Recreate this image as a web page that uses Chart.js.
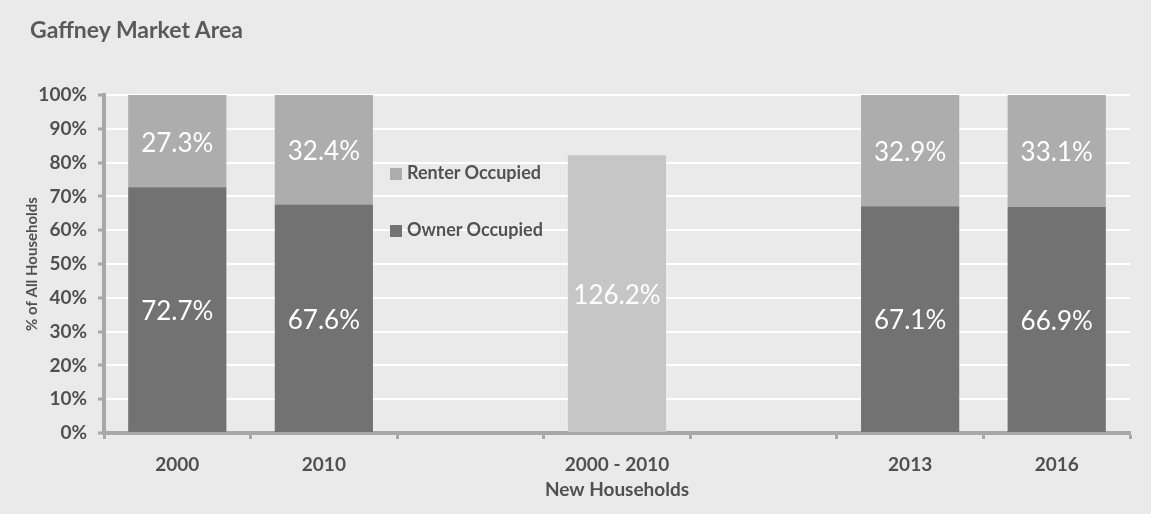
<!DOCTYPE html>
<html>
<head>
<meta charset="utf-8">
<script src="https://cdn.jsdelivr.net/npm/chart.js@4.4.1/dist/chart.umd.min.js"></script>
<style>
  body { margin: 0; background: #eaeaea; }
  #wrap { position: relative; width: 1151px; height: 514px; background: #eaeaea; }
  #title { position: absolute; left: 30px; top: 16px; font: bold 23px Lato, sans-serif; color: #5a5a5a; line-height: 26px; }
  #legend { position: absolute; left: 390px; top: 160px; font: bold 18px Lato, sans-serif; color: #525252; }
  #legend div { height: 24px; line-height: 24px; margin-bottom: 33px; white-space: nowrap; }
  #legend span { display: inline-block; width: 12px; height: 12px; margin-right: 5px; vertical-align: -1px; }
</style>
</head>
<body>
<div id="wrap">
  <canvas id="chart" width="1151" height="514"></canvas>
  <div id="title">Gaffney Market Area</div>
  <div id="legend"></div>
</div>
<script>
// categories on the x axis (blank slots keep the gaps)
const categories = ['2000', '2010', '', ['2000 - 2010', 'New Households'], '', '2013', '2016'];
const yTicks = [0, 10, 20, 30, 40, 50, 60, 70, 80, 90, 100];

// series values (% of all households)
const ownerPct = [72.7, 67.6, null, null, null, 67.1, 66.9];
const renterPct = [27.3, 32.4, null, 82.2, null, 32.9, 33.1];
// the new households bar shows its own share as label
const renterLabels = ['27.3%', '32.4%', '', '126.2%', '', '32.9%', '33.1%'];
const ownerLabels = ownerPct.map(v => v == null ? '' : v.toFixed(1) + '%');

const renterColor = '#adadad';
const ownerColor = '#727272';
const newColor = '#c6c6c6';
const textColor = '#505050';

const barLabels = {
  id: 'barLabels',
  afterDatasetsDraw(chart) {
    const ctx = chart.ctx;
    ctx.save();
    ctx.font = '26px Lato, sans-serif';
    ctx.fillStyle = '#ffffff';
    ctx.textAlign = 'center';
    ctx.textBaseline = 'middle';
    chart.data.datasets.forEach((ds, i) => {
      const meta = chart.getDatasetMeta(i);
      meta.data.forEach((bar, j) => {
        const txt = ds.labelsText[j];
        if (!txt) return;
        ctx.fillText(txt, bar.x, (bar.y + bar.base) / 2 + 2);
      });
    });
    ctx.restore();
  }
};

const chart = new Chart(document.getElementById('chart'), {
  type: 'bar',
  data: {
    labels: categories,
    datasets: [
      {
        label: 'Owner Occupied',
        data: ownerPct,
        labelsText: ownerLabels,
        backgroundColor: ownerColor,
        categoryPercentage: 1,
        barPercentage: 0.67
      },
      {
        label: 'Renter Occupied',
        data: renterPct,
        labelsText: renterLabels,
        backgroundColor: renterPct.map((v, i) => i === 3 ? newColor : renterColor),
        categoryPercentage: 1,
        barPercentage: 0.67
      }
    ]
  },
  options: {
    responsive: false,
    animation: false,
    layout: { padding: { left: 20, right: 21, top: 95, bottom: 0 } },
    plugins: {
      legend: { display: false },
      tooltip: { enabled: false }
    },
    scales: {
      x: {
        stacked: true,
        afterFit(scale) { scale.height = 81; },
        border: { color: '#a8a8a8', width: 4 },
        grid: { drawOnChartArea: false, offset: true, tickLength: 6, tickColor: '#a8a8a8', tickWidth: 3 },
        ticks: { color: textColor, font: { family: 'Lato', size: 19, weight: 'bold', lineHeight: 1.3 }, padding: 14, maxRotation: 0, autoSkip: false }
      },
      y: {
        stacked: true,
        min: 0,
        max: 100,
        afterFit(scale) { scale.width = 84; },
        afterBuildTicks(scale) { scale.ticks = yTicks.map(v => ({ value: v })); },
        border: { color: '#a8a8a8', width: 4 },
        grid: { color: '#ffffff', lineWidth: 2, tickLength: 6, tickColor: '#a8a8a8', tickWidth: 3 },
        ticks: { color: textColor, font: { family: 'Lato', size: 19, weight: 'bold' }, padding: 11, callback: v => v + '%' },
        title: { display: true, text: '% of All Households', color: textColor, font: { family: 'Lato', size: 15, weight: 'bold' }, padding: { top: 3, bottom: 0 } }
      }
    }
  },
  plugins: [barLabels]
});

// legend in the empty slot, same order as the reference
const legend = document.getElementById('legend');
[chart.data.datasets[1], chart.data.datasets[0]].forEach(ds => {
  const color = ds.label === 'Renter Occupied' ? renterColor : ownerColor;
  const row = document.createElement('div');
  row.innerHTML = '<span style="background:' + color + '"></span>' + ds.label;
  legend.appendChild(row);
});
</script>
</body>
</html>
